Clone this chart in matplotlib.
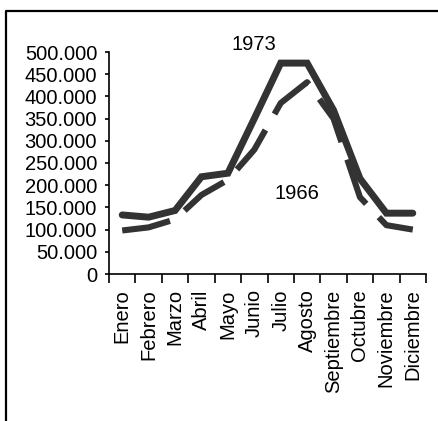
import matplotlib.pyplot as plt
from matplotlib.lines import Line2D

plt.rcParams['font.family'] = ['Liberation Sans', 'DejaVu Sans']

months = ["Enero", "Febrero", "Marzo", "Abril", "Mayo", "Junio", "Julio",
          "Agosto", "Septiembre", "Octubre", "Noviembre", "Diciembre"]
v1973 = [133000, 128000, 143000, 219000, 227000, 350000, 475000,
         475000, 369000, 215000, 137000, 137000]
v1966 = [98000, 105000, 123000, 178000, 212000, 280000, 385000,
         432000, 350000, 173000, 110000, 100000]
yticks = [0, 50000, 100000, 150000, 200000, 250000, 300000, 350000,
          400000, 450000, 500000]
ylabels = ["0", "50.000", "100.000", "150.000", "200.000", "250.000",
           "300.000", "350.000", "400.000", "450.000", "500.000"]

W, H = 438, 421
fig = plt.figure(figsize=(W / 100, H / 100), dpi=100)
ax = fig.add_axes([109 / W, 1 - 274 / H, (426 - 109) / W, (274 - 52) / H])

col = "#333333"
x = list(range(len(months)))
ax.plot(x, v1966, color=col, lw=4.4, dashes=(8, 3), solid_capstyle="butt",
        dash_capstyle="butt")
ax.plot(x, v1973, color=col, lw=5.0, solid_capstyle="round",
        solid_joinstyle="miter")

ax.set_xlim(-0.5, len(months) - 0.5)
ax.set_ylim(0, 500000)
ax.set_yticks(yticks)
ax.set_yticklabels(ylabels, fontsize=14.5)
ax.set_xticks([i - 0.5 for i in range(len(months) + 1)])
ax.set_xticklabels([])
ax.set_xticks(x, minor=True)
ax.set_xticklabels(months, minor=True, rotation=90, fontsize=14.5, va="top",
                   ha="center")
ax.tick_params(axis="x", which="major", direction="out", length=6.5,
               width=1.2, color="black")
ax.tick_params(axis="x", which="minor", length=0, pad=11)
ax.tick_params(axis="y", direction="out", length=3, width=1.2, pad=5.5)

for s in ["top", "right"]:
    ax.spines[s].set_visible(False)
for s in ["left", "bottom"]:
    ax.spines[s].set_linewidth(1.2)
    ax.spines[s].set_color("black")

ax.text(5.0, 516000, "1973", fontsize=14.5, ha="center", va="center")
ax.text(6.6, 182000, "1966", fontsize=14.5, ha="center", va="center")

# outer frame (cut off at right and bottom)
fig.add_artist(Line2D([6 / W, 6 / W, 1.05], [-0.05, 1 - 11 / H, 1 - 11 / H],
                      transform=fig.transFigure, color="black", lw=1.6,
                      clip_on=False))

fig.savefig("out.png", dpi=100)
